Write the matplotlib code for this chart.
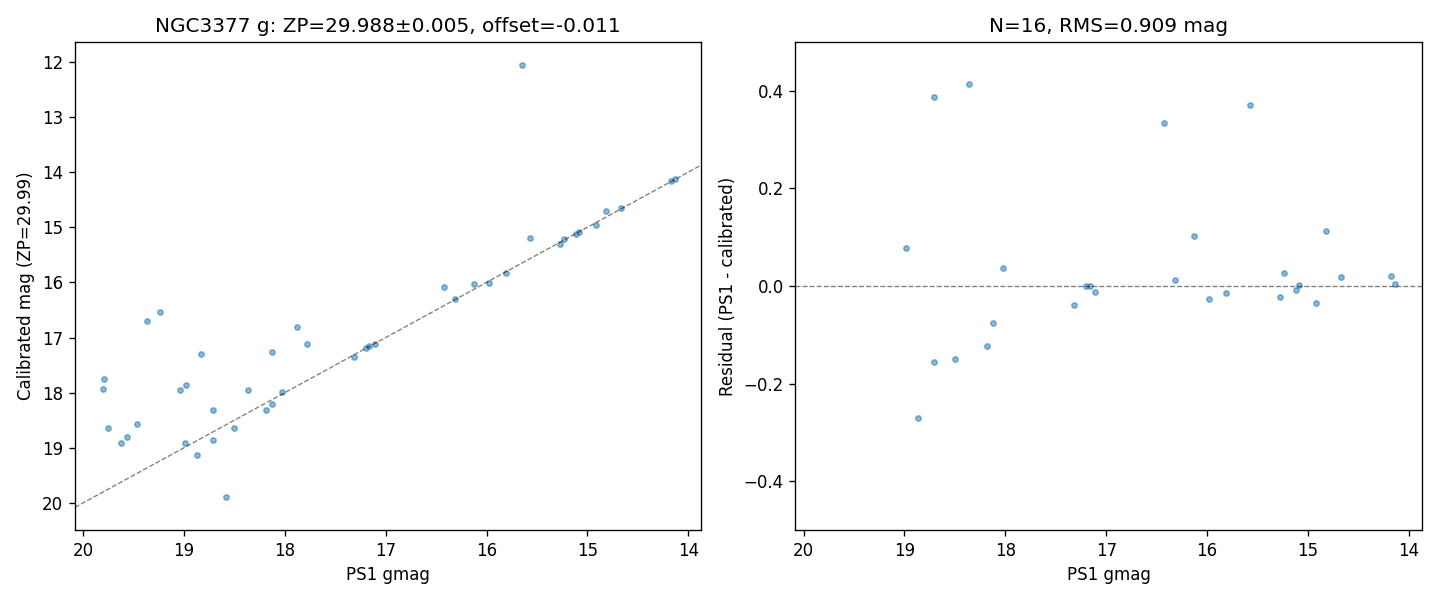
import matplotlib
matplotlib.use("Agg")
import matplotlib.pyplot as plt
import numpy as np

# stars within +-0.5 mag of the PS1 relation (shown in both panels)
ps1_in = [18.985, 18.707, 18.360, 18.866, 18.707, 18.499, 18.185, 18.122, 18.023,
          17.318, 17.197, 17.160, 17.110, 16.426, 16.317, 16.128, 15.979, 15.810,
          15.572, 15.275, 15.235, 15.116, 15.086, 14.918, 14.818, 14.669, 14.173, 14.133]
resid_in = [0.078, 0.388, 0.414, -0.271, -0.156, -0.150, -0.123, -0.076, 0.037,
            -0.039, -0.001, 0.000, -0.012, 0.334, 0.012, 0.103, -0.027, -0.014,
            0.371, -0.023, 0.027, -0.008, 0.002, -0.035, 0.113, 0.018, 0.021, 0.004]

# outliers (only visible in the left panel)
ps1_out = [19.362, 19.233, 19.789, 19.799, 18.826, 19.035, 18.975, 19.749,
           19.461, 19.620, 19.561, 18.578, 18.122, 17.874, 17.775, 15.652]
cal_out = [16.706, 16.543, 17.759, 17.940, 17.305, 17.958, 17.867, 18.648,
           18.575, 18.920, 18.811, 19.900, 17.269, 16.815, 17.123, 12.060]

ps1_in = np.array(ps1_in)
resid_in = np.array(resid_in)
cal_in = ps1_in - resid_in
ps1_out = np.array(ps1_out)
cal_out = np.array(cal_out)

ps1 = np.concatenate([ps1_in, ps1_out])
cal = np.concatenate([cal_in, cal_out])
resid = ps1 - cal

xlim = (20.08, 13.87)

fig, (ax1, ax2) = plt.subplots(1, 2, figsize=(12, 5), dpi=120)
fig.subplots_adjust(left=0.052, right=0.9875, top=0.93, bottom=0.1167, wspace=0.15)

ax1.scatter(ps1, cal, s=10, alpha=0.5)
xx = np.array(xlim)
ax1.plot(xx, xx, 'k--', lw=0.8, alpha=0.5)
ax1.set_xlim(xlim)
ax1.set_ylim(20.49, 11.64)
ax1.set_xlabel("PS1 gmag")
ax1.set_ylabel("Calibrated mag (ZP=29.99)")
ax1.set_title("NGC3377 g: ZP=29.988±0.005, offset=-0.011")

ax2.scatter(ps1, resid, s=10, alpha=0.5)
ax2.axhline(0, color='k', ls='--', lw=0.8, alpha=0.5)
ax2.set_xlim(xlim)
ax2.set_ylim(-0.5, 0.5)
ax2.set_xlabel("PS1 gmag")
ax2.set_ylabel("Residual (PS1 - calibrated)")
ax2.set_title("N=16, RMS=0.909 mag")

plt.savefig("out.png")
